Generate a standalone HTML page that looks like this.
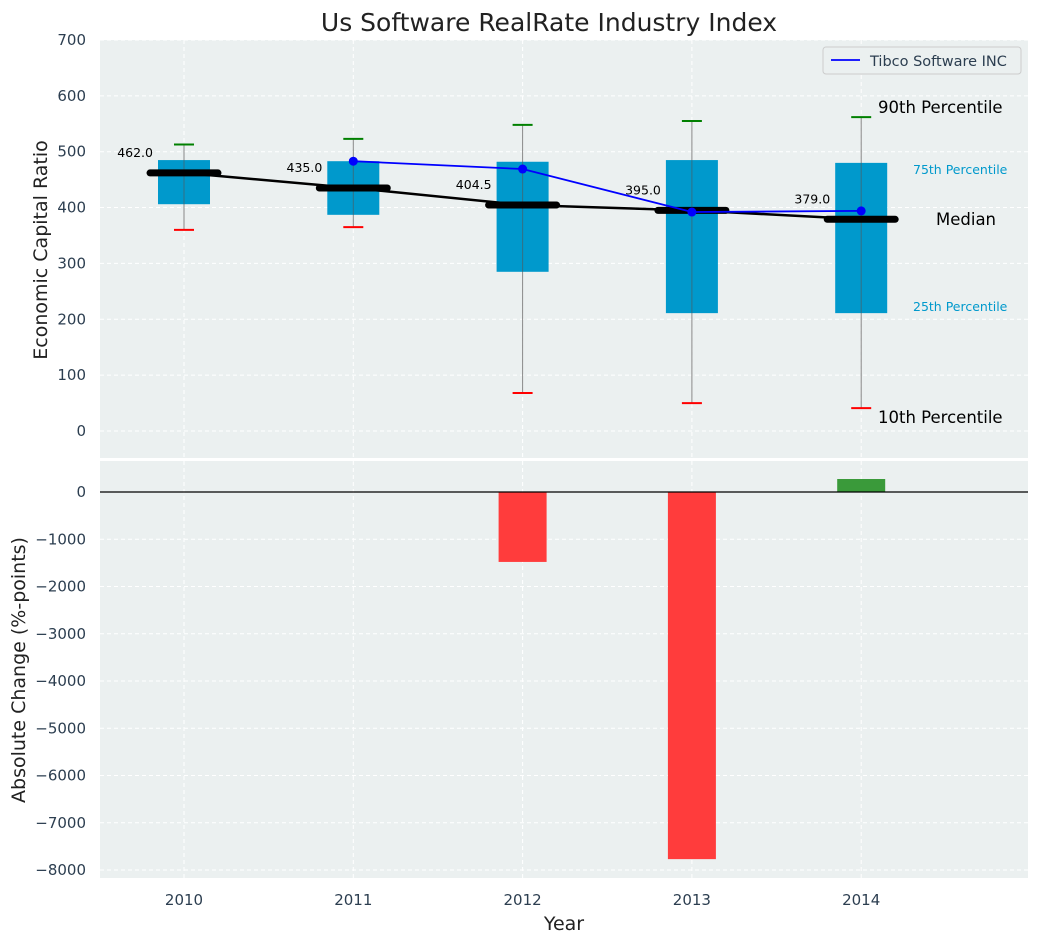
<!DOCTYPE html>
<html><head><meta charset="utf-8"><style>
body{margin:0;background:#fff;font-family:"Liberation Sans","DejaVu Sans",sans-serif}
svg text{font-family:"DejaVu Sans","Liberation Sans",sans-serif}
</style></head><body>
<svg id="c" width="1039" height="942" xmlns="http://www.w3.org/2000/svg"></svg>
<script>
const years=[2010,2011,2012,2013,2014];
const p10=[360,365,68,50,41];
const p25=[406,387,285,211,211];
const medians=[462,435,404.5,395,379];
const p75=[485,483,482,485,480];
const p90=[513,523,548,555,562];
const tibcoYears=[2011,2012,2013,2014];
const tibco=[483,469,392,394];
const changes=[0,0,-1480,-7770,275];
const topTicks=[0,100,200,300,400,500,600,700];
const botTicks=[0,-1000,-2000,-3000,-4000,-5000,-6000,-7000,-8000];

const svg=document.getElementById('c');
const NS='http://www.w3.org/2000/svg';
function mk(t,a,p){const e=document.createElementNS(NS,t);for(const k in a)e.setAttribute(k,a[k]);(p||svg).appendChild(e);return e;}
const L=100,R=1028,T1=40,B1=458,T2=461,B2=878;
const xs=y=>184+(y-2010)*169.3;
const yT=v=>431-v*0.5586;
const yB=v=>492-v*0.04725;
const tc='#2c3e50';

let bg=mk('rect',{x:L,y:T1,width:R-L,height:B1-T1,fill:'#ebf0f0'});

let bg2=mk('rect',{x:L,y:T2,width:R-L,height:B2-T2,fill:'#ebf0f0'});


topTicks.forEach(v=>{const y=yT(v);mk('line',{x1:L,x2:R,y1:y,y2:y,stroke:'#fff','stroke-dasharray':'4,3'});
 const t=mk('text',{x:86,y:y+5,'text-anchor':'end','font-size':15,fill:tc});t.textContent=v;
 });
botTicks.forEach(v=>{const y=yB(v);mk('line',{x1:L,x2:R,y1:y,y2:y,stroke:'#fff','stroke-dasharray':'4,3'});
 const t=mk('text',{x:86,y:y+5,'text-anchor':'end','font-size':15,fill:tc});t.textContent=String(v).replace('-','\u2212');
 });
years.forEach(yr=>{const x=xs(yr);
 mk('line',{x1:x,x2:x,y1:T1,y2:B1,stroke:'#fff','stroke-dasharray':'4,3'});
 mk('line',{x1:x,x2:x,y1:T2,y2:B2,stroke:'#fff','stroke-dasharray':'4,3'});
 const t=mk('text',{x:x,y:905,'text-anchor':'middle','font-size':15,fill:tc});t.textContent=yr;
 });

years.forEach((yr,i)=>{const x=xs(yr);
 mk('line',{x1:x,x2:x,y1:yT(p90[i]),y2:yT(p10[i]),stroke:'#888','stroke-width':1});
 const b=mk('rect',{x:x-26,y:yT(p75[i]),width:52,height:yT(p25[i])-yT(p75[i]),fill:'#0099cc'});
 
 mk('line',{x1:x,x2:x,y1:yT(p75[i]),y2:yT(p25[i]),stroke:'#555','stroke-width':1,opacity:0.6});
 mk('line',{x1:x-10,x2:x+10,y1:yT(p90[i]),y2:yT(p90[i]),stroke:'green','stroke-width':2});
 mk('line',{x1:x-10,x2:x+10,y1:yT(p10[i]),y2:yT(p10[i]),stroke:'red','stroke-width':2});
});
const mp=mk('polyline',{points:years.map((y,i)=>xs(y)+','+yT(medians[i])).join(' '),fill:'none',stroke:'#000','stroke-width':2.5});

years.forEach((yr,i)=>{const x=xs(yr),y=yT(medians[i]);
 mk('line',{x1:x-34,x2:x+34,y1:y,y2:y,stroke:'#000','stroke-width':7,'stroke-linecap':'round'});
 const t=mk('text',{x:x-31,y:y-16,'text-anchor':'end','font-size':12.5,fill:'#000'});t.textContent=medians[i].toFixed(1);
 });
const tl=mk('polyline',{points:tibcoYears.map((y,i)=>xs(y)+','+yT(tibco[i])).join(' '),fill:'none',stroke:'blue','stroke-width':1.8});

tibcoYears.forEach((yr,i)=>{const c=mk('circle',{cx:xs(yr),cy:yT(tibco[i]),r:4.5,fill:'blue'});
 });
[['90th Percentile',878,113,16.5,'#000'],['75th Percentile',913,174,12.5,'#0099cc'],['Median',936,225,16.5,'#000'],['25th Percentile',913,311,12.5,'#0099cc'],['10th Percentile',878,423,16.5,'#000']].forEach(a=>{
 const t=mk('text',{x:a[1],y:a[2],'font-size':a[3],fill:a[4]});t.textContent=a[0];
 });
const lg=mk('g',{});
mk('rect',{x:823,y:47,width:198,height:27,rx:3,fill:'#ebf0f0',stroke:'#ccc'},lg);
mk('line',{x1:831,x2:860,y1:60,y2:60,stroke:'blue','stroke-width':1.8},lg);
const lt=mk('text',{x:870,y:66,'font-size':14.5,fill:tc},lg);lt.textContent='Tibco Software INC';

years.forEach((yr,i)=>{const v=changes[i];if(!v)return;const x=xs(yr);
 const y0=yB(0),y1=yB(v);
 const b=mk('rect',{x:x-24,y:Math.min(y0,y1),width:48,height:Math.abs(y1-y0),fill:v<0?'#ff3c3c':'#3a9a3a'});
 });
mk('line',{x1:L,x2:R,y1:yB(0),y2:yB(0),stroke:'#000','stroke-width':1.2});

let t=mk('text',{x:549,y:31,'text-anchor':'middle','font-size':25,fill:'#222'});t.textContent='Us Software RealRate Industry Index';

t=mk('text',{x:564,y:930,'text-anchor':'middle','font-size':19,fill:'#222'});t.textContent='Year';

t=mk('text',{x:0,y:0,'text-anchor':'middle','font-size':19,fill:'#222',transform:'translate(47,250) rotate(-90)'});t.textContent='Economic Capital Ratio';

t=mk('text',{x:0,y:0,'text-anchor':'middle','font-size':19,fill:'#222',transform:'translate(25,670) rotate(-90)'});t.textContent='Absolute Change (%-points)';

</script>
</body></html>
